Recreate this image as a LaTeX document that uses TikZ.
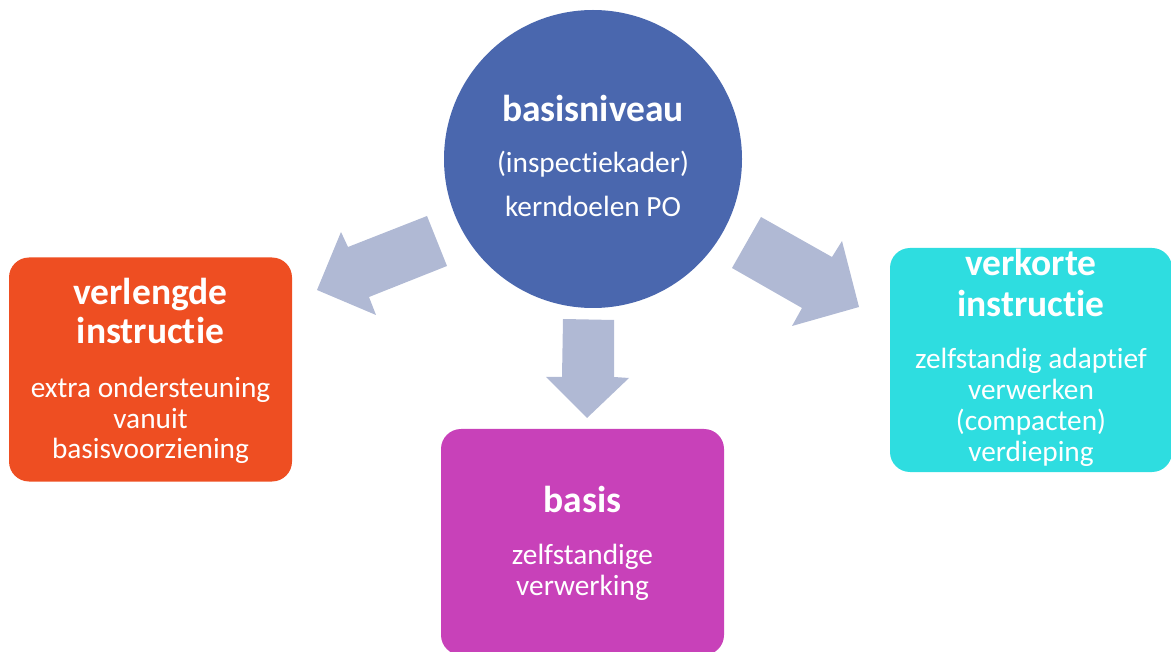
\documentclass[tikz,border=0pt]{standalone}
\usepackage{fontspec}
\setmainfont{Carlito}[Ligatures=NoCommon]
\definecolor{cblue}{RGB}{74,103,174}
\definecolor{corange}{RGB}{238,78,34}
\definecolor{cmagenta}{RGB}{200,65,185}
\definecolor{ccyan}{RGB}{46,221,224}
\definecolor{carrow}{RGB}{176,185,212}
\newcommand\dtitle{\bfseries\fontsize{37.5}{40}\selectfont}
\newcommand\dbody{\fontsize{29.3}{31}\selectfont}
\begin{document}
\begin{tikzpicture}[x=1pt,y=-1pt,
  shapebox/.style={rectangle, rounded corners=20pt, inner sep=0pt, minimum width=283pt, minimum height=224pt},
  ttext/.style={text=white, align=center, anchor=base, inner sep=0pt, font=\dtitle},
  btext/.style={text=white, align=center, anchor=base, inner sep=0pt, font=\dbody},
  blockarrow/.style={fill=carrow, draw=none}]
\useasboundingbox (0,0) rectangle (1171,652);
% shapes
\node[circle, fill=cblue, minimum size=298pt, inner sep=0pt] (C) at (593,159) {};
\node[shapebox, fill=corange] (L) at (150.5,369.5) {};
\node[shapebox, fill=cmagenta, minimum height=226pt] (M) at (582.5,542) {};
\node[shapebox, fill=ccyan, minimum width=282pt] (R) at (1031,360) {};
% block arrows
\fill[blockarrow] (427,216) -- (447,266) -- (369,297) -- (376,315) -- (317,290) -- (341,232) -- (348,247) -- cycle;
\fill[blockarrow] (563,319) -- (614,320) -- (614,377) -- (629,378) -- (587,418) -- (546,377) -- (562,377) -- cycle;
\fill[blockarrow] (761,217) -- (832,257) -- (842,241) -- (859,307) -- (792,326) -- (802,308) -- (732,268) -- cycle;
% texts (anchor=base is the baseline of the last line)
\node[ttext] (Ct) at (593,122) {basisniveau};
\node[btext, font=\fontsize{29.3}{44}\selectfont] (Cb) at (593,217) {(inspectiekader)\\kerndoelen PO};
\node[ttext, font=\bfseries\fontsize{37.5}{39}\selectfont] (Lt) at (150.5,344) {verlengde\\instructie};
\node[btext] (Lb) at (150.5,459) {extra ondersteuning\\vanuit\\basisvoorziening};
\node[ttext] (Mt) at (582.5,512) {basis};
\node[btext] (Mb) at (582.5,595) {zelfstandige\\verwerking};
\node[ttext, font=\bfseries\fontsize{37.5}{41}\selectfont] (Rt) at (1031,317) {verkorte\\instructie};
\node[btext] (Rb) at (1031,461) {zelfstandig adaptief\\verwerken\\(compacten)\\verdieping};
\end{tikzpicture}
\end{document}
